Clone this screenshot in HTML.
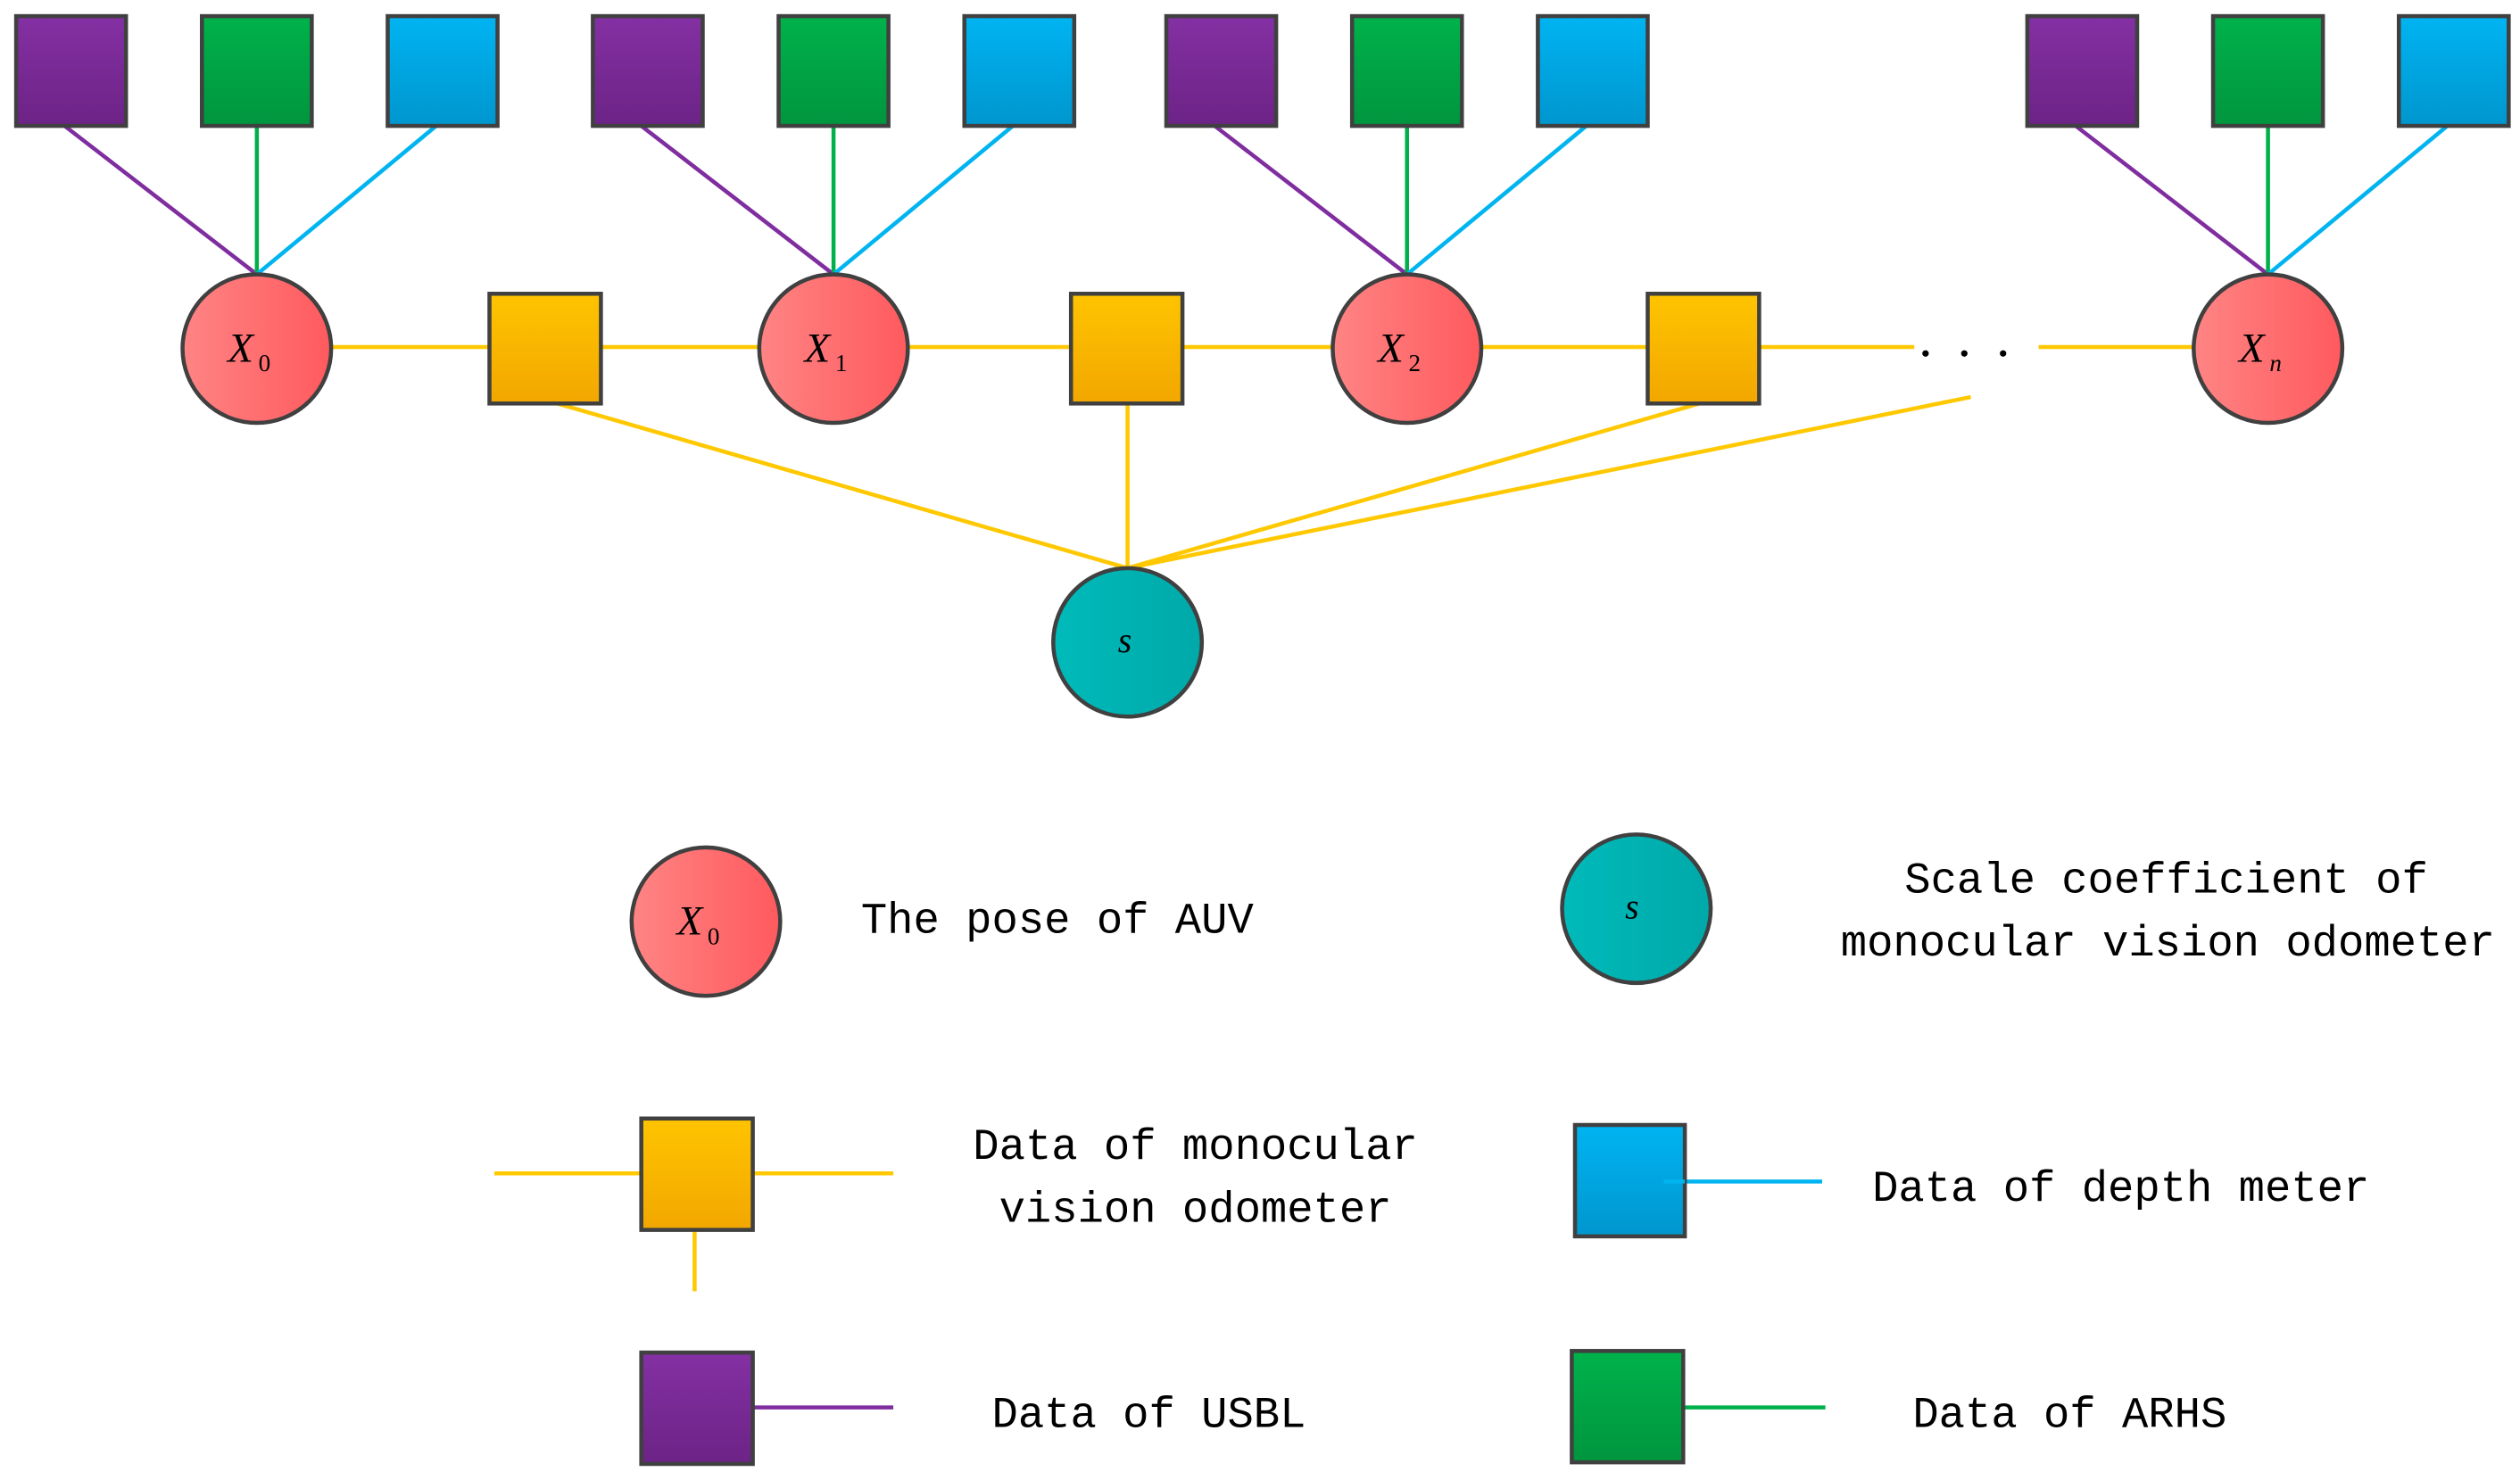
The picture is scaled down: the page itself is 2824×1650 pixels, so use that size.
<!DOCTYPE html>
<html><head><meta charset="utf-8"><style>html,body{margin:0;padding:0;background:#fff}svg{display:block}</style></head>
<body>
<svg width="2824" height="1650" viewBox="0 0 1560 912" preserveAspectRatio="none" xmlns="http://www.w3.org/2000/svg">
<defs>
<linearGradient id="pu" x1="0" y1="0" x2="0" y2="1"><stop offset="0" stop-color="#8430A3"/><stop offset="1" stop-color="#6C2386"/></linearGradient>
<linearGradient id="gr" x1="0" y1="0" x2="0" y2="1"><stop offset="0" stop-color="#00B24B"/><stop offset="1" stop-color="#00953E"/></linearGradient>
<linearGradient id="bl" x1="0" y1="0" x2="0" y2="1"><stop offset="0" stop-color="#00B4F2"/><stop offset="1" stop-color="#0096CE"/></linearGradient>
<linearGradient id="ye" x1="0" y1="0" x2="0" y2="1"><stop offset="0" stop-color="#FFC400"/><stop offset="1" stop-color="#F2A700"/></linearGradient>
<linearGradient id="re" x1="0" y1="0" x2="1" y2="0"><stop offset="0" stop-color="#FF8484"/><stop offset="1" stop-color="#FF5A5E"/></linearGradient>
<linearGradient id="te" x1="0" y1="0" x2="1" y2="0"><stop offset="0" stop-color="#00BABA"/><stop offset="1" stop-color="#00A9A9"/></linearGradient>
</defs>
<g stroke-width="2.5">
<!-- top connectors -->
<g id="c">
</g>
<line x1="40" y1="78" x2="159" y2="170" stroke="#7F2D9F"/><line x1="159" y1="78" x2="159" y2="170" stroke="#00B04A"/><line x1="270" y1="78" x2="159" y2="170" stroke="#00B4F0"/>
<line x1="397" y1="78" x2="516" y2="170" stroke="#7F2D9F"/><line x1="516" y1="78" x2="516" y2="170" stroke="#00B04A"/><line x1="627" y1="78" x2="516" y2="170" stroke="#00B4F0"/>
<line x1="752" y1="78" x2="871" y2="170" stroke="#7F2D9F"/><line x1="871" y1="78" x2="871" y2="170" stroke="#00B04A"/><line x1="982" y1="78" x2="871" y2="170" stroke="#00B4F0"/>
<line x1="1285" y1="78" x2="1404" y2="170" stroke="#7F2D9F"/><line x1="1404" y1="78" x2="1404" y2="170" stroke="#00B04A"/><line x1="1515" y1="78" x2="1404" y2="170" stroke="#00B4F0"/>
<!-- yellow chain -->
<g stroke="#FFC800">
<line x1="205" y1="215" x2="303" y2="215"/><line x1="372" y1="215" x2="470" y2="215"/>
<line x1="562" y1="215" x2="663" y2="215"/><line x1="732" y1="215" x2="825" y2="215"/>
<line x1="917" y1="215" x2="1020" y2="215"/><line x1="1089" y1="215" x2="1185" y2="215"/>
<line x1="1262" y1="215" x2="1358" y2="215"/>
<line x1="345" y1="250" x2="698" y2="352"/><line x1="698" y1="250" x2="698" y2="352"/>
<line x1="1052" y1="250" x2="698" y2="352"/><line x1="1220" y1="246" x2="698" y2="352"/>
</g>
</g>
<g stroke="#404040" stroke-width="2.5">
<rect x="10" y="10" width="68" height="68" fill="url(#pu)"/><rect x="125" y="10" width="68" height="68" fill="url(#gr)"/><rect x="240" y="10" width="68" height="68" fill="url(#bl)"/>
<rect x="367" y="10" width="68" height="68" fill="url(#pu)"/><rect x="482" y="10" width="68" height="68" fill="url(#gr)"/><rect x="597" y="10" width="68" height="68" fill="url(#bl)"/>
<rect x="722" y="10" width="68" height="68" fill="url(#pu)"/><rect x="837" y="10" width="68" height="68" fill="url(#gr)"/><rect x="952" y="10" width="68" height="68" fill="url(#bl)"/>
<rect x="1255" y="10" width="68" height="68" fill="url(#pu)"/><rect x="1370" y="10" width="68" height="68" fill="url(#gr)"/><rect x="1485" y="10" width="68" height="68" fill="url(#bl)"/>
<rect x="303" y="182" width="69" height="68" fill="url(#ye)"/><rect x="663" y="182" width="69" height="68" fill="url(#ye)"/><rect x="1020" y="182" width="69" height="68" fill="url(#ye)"/>
<circle cx="159" cy="216" r="46" fill="url(#re)"/><circle cx="516" cy="216" r="46" fill="url(#re)"/>
<circle cx="871" cy="216" r="46" fill="url(#re)"/><circle cx="1404" cy="216" r="46" fill="url(#re)"/>
<circle cx="698" cy="398" r="46" fill="url(#te)"/>
</g>
<g font-family="Liberation Serif, serif" font-style="italic" font-size="26" fill="#000">
<text x="141" y="224">X</text><text x="160" y="230" font-size="15" font-style="normal">0</text>
<text x="498" y="224">X</text><text x="517" y="230" font-size="15" font-style="normal">1</text>
<text x="853" y="224">X</text><text x="872" y="230" font-size="15" font-style="normal">2</text>
<text x="1386" y="224">X</text><text x="1405" y="230" font-size="15">n</text>
<text x="692" y="404" font-size="22">s</text>
</g>
<g fill="#000"><circle cx="1192" cy="219" r="2"/><circle cx="1216" cy="219" r="2"/><circle cx="1240" cy="219" r="2"/></g>
<!-- legend -->
<g stroke-width="2.5">
<line x1="306" y1="727" x2="553" y2="727" stroke="#FFC800"/><line x1="430" y1="762" x2="430" y2="800" stroke="#FFC800"/>
<line x1="1030" y1="732" x2="1128" y2="732" stroke="#00B4F0"/>
<line x1="466" y1="872" x2="553" y2="872" stroke="#7F2D9F"/>
<line x1="1042" y1="872" x2="1130" y2="872" stroke="#00B04A"/>
</g>
<g stroke="#404040" stroke-width="2.5">
<circle cx="437" cy="571" r="46" fill="url(#re)"/><circle cx="1013" cy="563" r="46" fill="url(#te)"/>
<rect x="397" y="693" width="69" height="69" fill="url(#ye)"/>
<rect x="975" y="697" width="68" height="69" fill="url(#bl)"/>
<rect x="397" y="838" width="69" height="69" fill="url(#pu)"/>
<rect x="973" y="837" width="69" height="69" fill="url(#gr)"/>
</g>
<line x1="1030" y1="732" x2="1043" y2="732" stroke="#00B4F0" stroke-width="2.5"/>
<g font-family="Liberation Serif, serif" font-style="italic" font-size="26" fill="#000">
<text x="419" y="579">X</text><text x="438" y="585" font-size="15" font-style="normal">0</text>
<text x="1006" y="569" font-size="22">s</text>
</g>
<g font-family="Liberation Mono, monospace" font-size="27" fill="#000">
<text x="533" y="578">The pose of AUV</text>
<text x="1341" y="553" text-anchor="middle">Scale coefficient of</text>
<text x="1342" y="592" text-anchor="middle">monocular vision odometer</text>
<text x="740" y="718" text-anchor="middle">Data of monocular</text>
<text x="740" y="757" text-anchor="middle">vision odometer</text>
<text x="1159" y="744">Data of depth meter</text>
<text x="614" y="884">Data of USBL</text>
<text x="1184" y="884">Data of ARHS</text>
</g>
</svg>
</body></html>
